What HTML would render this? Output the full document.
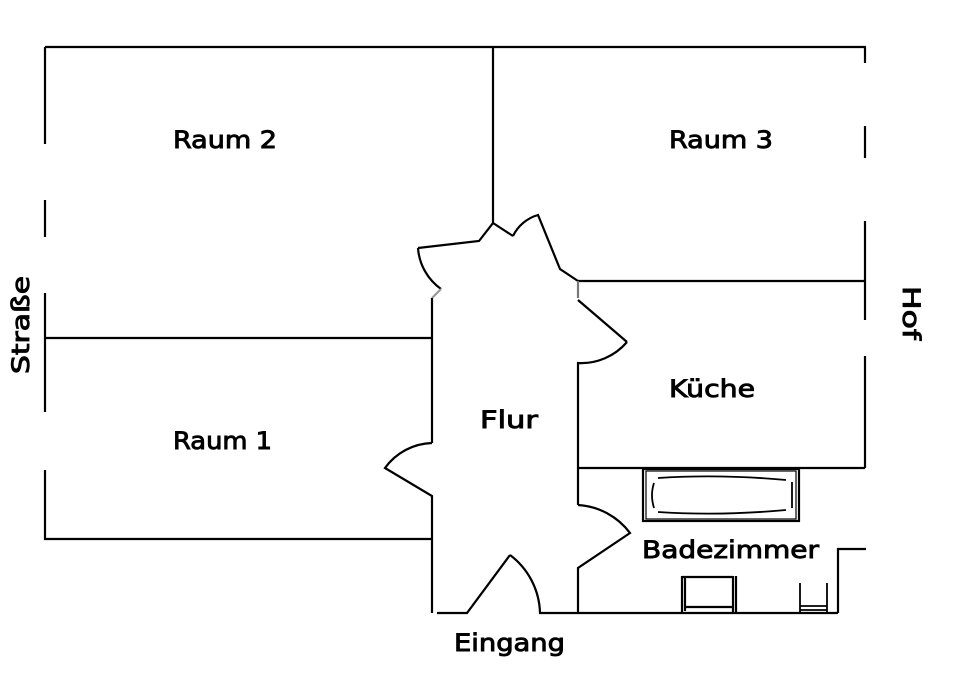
<!DOCTYPE html>
<html><head><meta charset="utf-8"><style>html,body{margin:0;padding:0;background:#fff}svg{display:block}</style></head>
<body>
<svg width="960" height="677" viewBox="0 0 960 677" xmlns="http://www.w3.org/2000/svg">
<g fill="none" stroke="#000" stroke-width="2.2" stroke-linecap="butt">
<path d="M45 47H866"/>
<path d="M45 47V144M45 200V237M45 293V412M45 470V539H432M45 338H432"/>
<path d="M865 47V63M865 126V158M865 221V320M865 356V468M578 281H865M578 468H865"/>
<path d="M838 613V549H866"/>
<path d="M493 47V223L479 241L418 248"/>
<path d="M418 248A55 55 0 0 0 441 289"/>
<path d="M441 289L432 298" stroke="#999"/>
<path d="M493 223L513 236"/>
<path d="M513 236A40 40 0 0 1 538 215L560 269L578 281"/>
<path d="M578 281V298" stroke="#777"/>
<path d="M578 300L627 342"/>
<path d="M627 342A60 60 0 0 1 578 363V505"/>
<path d="M578 505A70 70 0 0 1 630 533L578 568V613"/>
<path d="M432 298V443"/>
<path d="M432 443A60 60 0 0 0 385 468L432 496V613"/>
<path d="M437 613H467L510 555"/>
<path d="M510 555A75 75 0 0 1 540 613H838"/>
<rect x="643" y="469" width="156" height="52"/>
<rect x="646" y="471" width="150" height="48" stroke-width="1.2"/>
<path d="M658 478Q720 474 786 480M658 512Q720 516 786 510M654 483Q650 495 654 508M792 482V508" stroke-width="1.8"/>
<path d="M682 577H733M682 576V612M685 577V611M733 576V612M736 576V612M685 607H733"/>
<path d="M800 583V613M827 583V613M800 606H827M800 610H827" stroke-width="1.8"/>
</g>
<g font-family="'DejaVu Sans','Liberation Sans',sans-serif" font-size="24" fill="#000" stroke="#000" stroke-width="0.9">
<text x="173" y="148" textLength="104" lengthAdjust="spacingAndGlyphs">Raum 2</text>
<text x="669" y="148" textLength="104" lengthAdjust="spacingAndGlyphs">Raum 3</text>
<text x="173" y="449" textLength="99" lengthAdjust="spacingAndGlyphs">Raum 1</text>
<text x="669" y="397" textLength="86" lengthAdjust="spacingAndGlyphs">Küche</text>
<text x="480" y="428" textLength="58" lengthAdjust="spacingAndGlyphs">Flur</text>
<text x="642" y="558" textLength="177" lengthAdjust="spacingAndGlyphs">Badezimmer</text>
<text x="454" y="651" textLength="111" lengthAdjust="spacingAndGlyphs">Eingang</text>
<text transform="translate(29 374) rotate(-90)" textLength="98" lengthAdjust="spacingAndGlyphs">Straße</text>
<text transform="translate(903 286) rotate(90)" textLength="54" lengthAdjust="spacingAndGlyphs">Hof</text>
</g>
</svg>
</body></html>
